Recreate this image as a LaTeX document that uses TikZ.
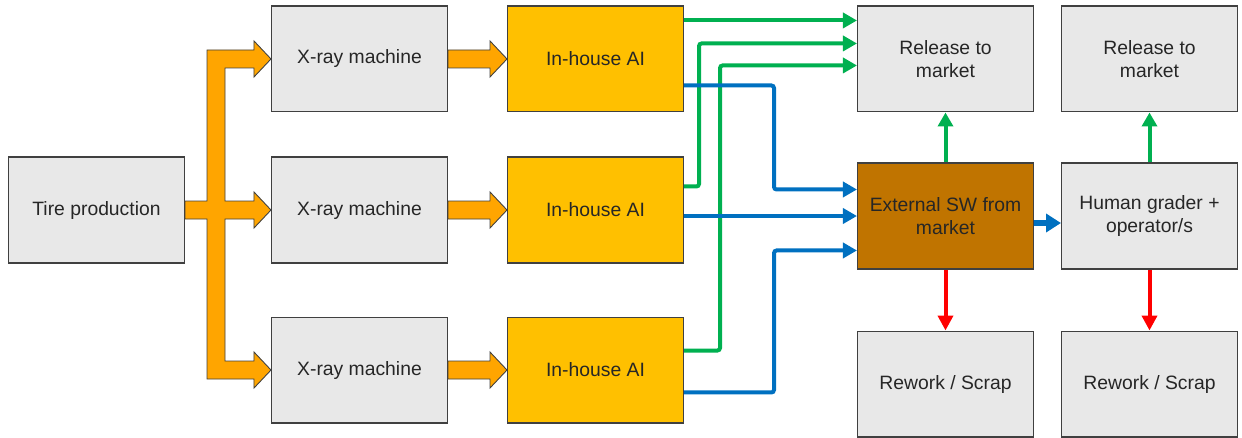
\documentclass[tikz,border=0pt]{standalone}
\usepackage{fontspec}
\setmainfont{Liberation Sans}
\usepackage{xcolor}
\usetikzlibrary{positioning,calc,arrows.meta}
\definecolor{boxgray}{HTML}{E8E8E8}
\definecolor{edgegray}{HTML}{404040}
\definecolor{textgray}{HTML}{262626}
\definecolor{aiyellow}{HTML}{FFC000}
\definecolor{swbrown}{HTML}{C07400}
\definecolor{feedorange}{HTML}{FFA500}
\definecolor{passgreen}{HTML}{00B050}
\definecolor{routeblue}{HTML}{0070C0}
\definecolor{failred}{HTML}{FF0000}

\begin{document}
\begin{tikzpicture}[x=0.02cm, y=0.02cm,
    font=\fontsize{11}{13}\selectfont,
    box/.style={draw=edgegray, line width=0.6pt, fill=boxgray, text=textgray,
      minimum width=3.52cm, minimum height=2.12cm, align=center, inner sep=2pt},
    aibox/.style={box, fill=aiyellow},
    swbox/.style={box, fill=swbrown},
    feed/.style={draw=edgegray, line width=0.5pt, fill=feedorange},
    pass/.style={draw=passgreen, line width=0.08cm, rounded corners=1.5pt,
      -{Triangle[length=0.28cm, width=0.3cm]}},
    route/.style={draw=routeblue, line width=0.08cm, rounded corners=1.5pt,
      -{Triangle[length=0.28cm, width=0.3cm]}},
    fail/.style={draw=failred, line width=0.08cm,
      -{Triangle[length=0.3cm, width=0.3cm]}}]
  \useasboundingbox (0,0) rectangle (1242,-437);

  % production line
  \node[box] (tire) at (96.5,-210) {Tire production};
  \node[box, right=1.72cm of tire] (xray2) {X-ray machine};
  \node[box, above=0.88cm of xray2] (xray1) {X-ray machine};
  \node[box, below=1.06cm of xray2] (xray3) {X-ray machine};
  \node[aibox, right=1.18cm of xray1] (ai1) {In-house AI};
  \node[aibox, right=1.18cm of xray2] (ai2) {In-house AI};
  \node[aibox, right=1.18cm of xray3] (ai3) {In-house AI};

  % external software and grading
  \node[swbox, right=3.46cm of ai2, yshift=-0.12cm] (ext) {External SW from\\market};
  \node[box, above=1.0cm of ext] (rel1) {Release to\\market};
  \node[box, below=1.22cm of ext] (rew1) {Rework / Scrap};
  \node[box, right=0.54cm of ext] (hum) {Human grader +\\operator/s};
  \node[box, above=1.0cm of hum] (rel2) {Release to\\market};
  \node[box, below=1.22cm of hum] (rew2) {Rework / Scrap};

  % split feed to the x-ray machines
  \coordinate (fork) at ($(tire.east)+(31,0)$);
  \draw[feed] ($(tire.east)+(0,9)$) -- ($(fork)+(-9,9)$)
    -- ($(fork |- xray1.west)+(-9,9)$) -- ($(xray1.west)+(-17,9)$)
    -- ($(xray1.west)+(-17,18)$) -- (xray1.west) -- ($(xray1.west)+(-17,-18)$)
    -- ($(xray1.west)+(-17,-9)$) -- ($(fork |- xray1.west)+(9,-9)$)
    -- ($(fork |- xray2.west)+(9,9)$) -- ($(xray2.west)+(-17,9)$)
    -- ($(xray2.west)+(-17,18)$) -- (xray2.west) -- ($(xray2.west)+(-17,-18)$)
    -- ($(xray2.west)+(-17,-9)$) -- ($(fork |- xray2.west)+(9,-9)$)
    -- ($(fork |- xray3.west)+(9,9)$) -- ($(xray3.west)+(-17,9)$)
    -- ($(xray3.west)+(-17,18)$) -- (xray3.west) -- ($(xray3.west)+(-17,-18)$)
    -- ($(xray3.west)+(-17,-9)$) -- ($(fork |- xray3.west)+(-9,-9)$)
    -- ($(fork)+(-9,-9)$) -- ($(tire.east)+(0,-9)$) -- cycle;

  % x-ray to AI
  \draw[feed] ($(xray1.east)+(0,9)$) -- ($(ai1.west)+(-17,9)$) -- ($(ai1.west)+(-17,18)$)
    -- (ai1.west) -- ($(ai1.west)+(-17,-18)$) -- ($(ai1.west)+(-17,-9)$)
    -- ($(xray1.east)+(0,-9)$) -- cycle;
  \draw[feed] ($(xray2.east)+(0,9)$) -- ($(ai2.west)+(-17,9)$) -- ($(ai2.west)+(-17,18)$)
    -- (ai2.west) -- ($(ai2.west)+(-17,-18)$) -- ($(ai2.west)+(-17,-9)$)
    -- ($(xray2.east)+(0,-9)$) -- cycle;
  \draw[feed] ($(xray3.east)+(0,9)$) -- ($(ai3.west)+(-17,9)$) -- ($(ai3.west)+(-17,18)$)
    -- (ai3.west) -- ($(ai3.west)+(-17,-18)$) -- ($(ai3.west)+(-17,-9)$)
    -- ($(xray3.east)+(0,-9)$) -- cycle;

  % AI passes
  \draw[pass] ([yshift=-0.3cm]ai1.north east) -- ([yshift=-0.3cm]rel1.north west);
  \draw[pass] ([yshift=-0.6cm]ai2.north east) -- ++(0.3cm,0) |- ([yshift=-0.76cm]rel1.north west);
  \draw[pass] ([yshift=-0.68cm]ai3.north east) -- ++(0.72cm,0) |- ([yshift=-1.2cm]rel1.north west);

  % AI unsure, to external SW
  \draw[route] ([yshift=-1.6cm]ai1.north east) -- ++(1.8cm,0) |- ([yshift=-0.54cm]ext.north west);
  \draw[route] (ai2.east |- ext.west) -- (ext.west);
  \draw[route] ([yshift=-1.52cm]ai3.north east) -- ++(1.8cm,0) |- ([yshift=-1.76cm]ext.north west);

  % decisions
  \draw[pass] (ext) -- (rel1);
  \draw[fail] (ext) -- (rew1);
  \draw[route, line width=0.12cm, -{Triangle[length=0.3cm, width=0.36cm]}]
    ([yshift=-0.14cm]ext.east) -- ([yshift=-0.14cm]hum.west);
  \draw[pass] (hum) -- (rel2);
  \draw[fail] (hum) -- (rew2);
\end{tikzpicture}
\end{document}
